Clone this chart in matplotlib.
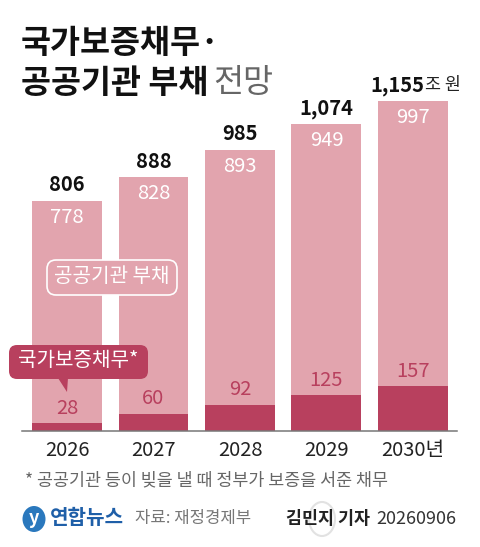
import matplotlib
matplotlib.use("Agg")
import matplotlib.pyplot as plt
from matplotlib.patches import FancyBboxPatch, Polygon, Ellipse
from matplotlib.transforms import IdentityTransform

plt.rcParams['font.family'] = ['Noto Sans CJK KR', 'DejaVu Sans']

years = ['2026', '2027', '2028', '2029', '2030년']
guarantee = [28, 60, 92, 125, 157]
public = [778, 828, 893, 949, 997]
totals = [806, 888, 985, 1074, 1155]
total_labels = ['806', '888', '985', '1,074', '1,155']

W, H = 480, 547
DARK = '#b8405e'
LIGHT = '#e2a4ae'
fig = plt.figure(figsize=(W / 100, H / 100), dpi=100, facecolor='white')
ax = fig.add_axes([0, 0, 1, 1])
ax.set_xlim(-0.7746, 4.775)
ax.set_ylim(-406, 1508.5)
ax.axis('off')


def P(x, y):
    return x / W, 1 - y / H


def T(x, y, s, **kw):
    kw.setdefault('ha', 'left')
    kw.setdefault('va', 'center')
    return fig.text(*P(x, y), s, **kw)


xs = list(range(len(years)))
ax.bar(xs, guarantee, width=0.809, color=DARK, linewidth=0, zorder=2)
tops = [t - g for t, g in zip(totals, guarantee)]
ax.bar(xs, tops, bottom=guarantee, width=0.809, color=LIGHT, linewidth=0, zorder=2)
ax.plot([-0.52, 4.51], [0, 0], color='#777777', lw=1.1, zorder=3)

for i, (g, p, t, tl, y) in enumerate(zip(guarantee, public, totals, total_labels, years)):
    if i == len(years) - 1:
        ax.text(i + 0.127, t + 19, tl, ha='right', va='bottom', fontsize=14.5, fontweight='bold',
                color='#111111', zorder=4)
    else:
        ax.text(i, t + 19, tl, ha='center', va='bottom', fontsize=14.5, fontweight='bold',
                color='#111111', zorder=4)
    ax.text(i, t - 58, str(p), ha='center', va='center', fontsize=14.5, color='white', zorder=4)
    ax.text(i, g + 52, str(g), ha='center', va='center', fontsize=14.5, color=DARK, zorder=4)
    ax.text(i, -33, y, ha='center', va='top', fontsize=14.5, color='#222222', zorder=4)

T(21, 43, '국가보증채무·', fontsize=23.5, fontweight='bold', color='#111111')
T(21, 84, '공공기관 부채', fontsize=23.5, fontweight='bold', color='#111111')
T(213, 83, '전망', fontsize=23.5, color='#666666', fontweight='light')
T(425, 85, '조 원', fontsize=12.5, color='#222222')


def rounded(x0, y0, x1, y1, r, **kw):
    rr = FancyBboxPatch((x0 + r, H - y1 + r), x1 - x0 - 2 * r, y1 - y0 - 2 * r,
                        boxstyle=f'round,pad={r},rounding_size={r}',
                        transform=IdentityTransform(), **kw)
    fig.add_artist(rr)
    return rr


rounded(47, 260, 177, 295, 9, facecolor=LIGHT, edgecolor='white', linewidth=1.2, zorder=5)
T(112, 277, '공공기관 부채', ha='center', fontsize=14.5, color='white', zorder=6)

rounded(9, 345, 148, 379, 8, facecolor=DARK, edgecolor='none', zorder=5)
fig.add_artist(Polygon([P(58, 378), P(68, 378), P(67, 392)], closed=True, transform=fig.transFigure,
                       facecolor=DARK, edgecolor='none', zorder=5))
T(78, 361, '국가보증채무*', ha='center', fontsize=14.5, color='white', zorder=6)

T(25, 480, '* 공공기관 등이 빚을 낼 때 정부가 보증을 서준 채무', fontsize=12.5, color='#666666')

fig.add_artist(Ellipse(P(34, 519), 23 / W, 26 / H, transform=fig.transFigure,
                       facecolor='#2a78bd', edgecolor='none'))
T(34, 519, 'y', ha='center', fontsize=13, style='italic', color='white', fontweight='bold')
T(50, 518, '연합뉴스', fontsize=14.5, fontweight='bold', color='#1f5fa8')
T(135, 519, '자료: 재정경제부', fontsize=12, color='#777777')

fig.add_artist(Ellipse(P(322, 519), 26 / W, 34 / H, transform=fig.transFigure,
                       facecolor='none', edgecolor='#e2e2e2', linewidth=1.5, zorder=1))
T(286, 519, '김민지 기자', fontsize=12.5, fontweight='bold', color='#222222', zorder=6)
T(376, 519, '20260906', fontsize=13, color='#333333', zorder=6)

fig.savefig('out.png', dpi=100, facecolor='white')
